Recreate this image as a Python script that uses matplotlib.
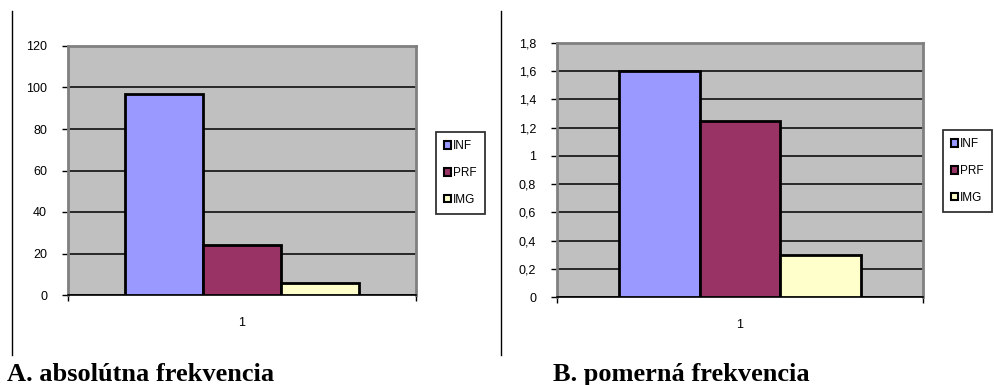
import matplotlib
matplotlib.use('Agg')
import matplotlib.pyplot as plt
from matplotlib.lines import Line2D

series = ['INF', 'PRF', 'IMG']
colors = ['#9999FF', '#993366', '#FFFFCC']
category = ['1']
absolute = [97, 24, 6]
relative = [1.6, 1.25, 0.3]
abs_ticks = [0, 20, 40, 60, 80, 100, 120]
rel_ticks = [0, 0.2, 0.4, 0.6, 0.8, 1.0, 1.2, 1.4, 1.6, 1.8]
rel_labels = ['0', '0,2', '0,4', '0,6', '0,8', '1', '1,2', '1,4', '1,6', '1,8']

W, H = 994, 385
plt.rcParams['font.family'] = ['Liberation Sans', 'DejaVu Sans']
fig = plt.figure(figsize=(W / 100, H / 100), dpi=100)
fig.patch.set_facecolor('white')


def px(x, y, w, h):
    return [x / W, 1 - (y + h) / H, w / W, h / H]


def make_chart(rect, values, ticks, labels, bw, leg_xy, title, title_xy):
    ax = fig.add_axes(rect)
    ax.set_facecolor('#C0C0C0')
    offs = [-bw, 0, bw]
    for name, col, v, o in zip(series, colors, values, offs):
        ax.bar(0 + o, v, width=bw, color=col, edgecolor='black',
               linewidth=2, label=name, zorder=3)
    ax.set_xlim(-0.5, 0.5)
    ax.set_ylim(ticks[0], ticks[-1])
    ax.set_yticks(ticks)
    ax.set_yticklabels(labels)
    ax.yaxis.grid(True, color='black', linewidth=1.1, zorder=1)
    ax.set_axisbelow(True)
    ax.set_xticks([-0.5, 0.5])
    ax.set_xticklabels(['', ''])
    ax.set_xticks([0], minor=True)
    ax.set_xticklabels(category, minor=True)
    ax.tick_params(axis='x', which='minor', length=0, pad=16, labelsize=9)
    ax.tick_params(axis='x', which='major', length=4, width=1, direction='out')
    ax.tick_params(axis='y', length=4, width=1, direction='out', labelsize=9, pad=11)
    for s in ['top', 'right', 'left']:
        ax.spines[s].set_color('#808080')
        ax.spines[s].set_linewidth(2)
    ax.spines['bottom'].set_color('black')
    ax.spines['bottom'].set_linewidth(1.2)
    leg = ax.legend(loc='upper left', bbox_to_anchor=(leg_xy[0] / W, 1 - leg_xy[1] / H),
                    bbox_transform=fig.transFigure, fontsize=8.5, frameon=True,
                    fancybox=False, handlelength=0.6, handleheight=0.6,
                    handletextpad=0.15, labelspacing=1.25, borderpad=0.7,
                    borderaxespad=0)
    leg.get_frame().set_edgecolor('black')
    leg.get_frame().set_linewidth(1.3)
    for p in leg.get_patches():
        p.set_linewidth(1.5)
    fig.text(title_xy[0] / W, 1 - title_xy[1] / H, title, family='Liberation Serif',
             fontweight='bold', fontsize=19, ha='left', va='baseline')
    return ax


make_chart(px(68, 46, 348, 249), absolute, abs_ticks, [str(t) for t in abs_ticks],
           0.224, (436, 132), 'A. absolútna frekvencia', (7, 381))
make_chart(px(557, 43, 366, 254), relative, rel_ticks, rel_labels,
           0.22, (943, 130), 'B. pomerná frekvencia', (553, 381))

# vertical separator lines
for x in (12, 501):
    fig.add_artist(Line2D([x / W, x / W], [1 - 11 / H, 1 - 355 / H],
                          transform=fig.transFigure, color='black', linewidth=1))

plt.savefig('out.png', dpi=100)
